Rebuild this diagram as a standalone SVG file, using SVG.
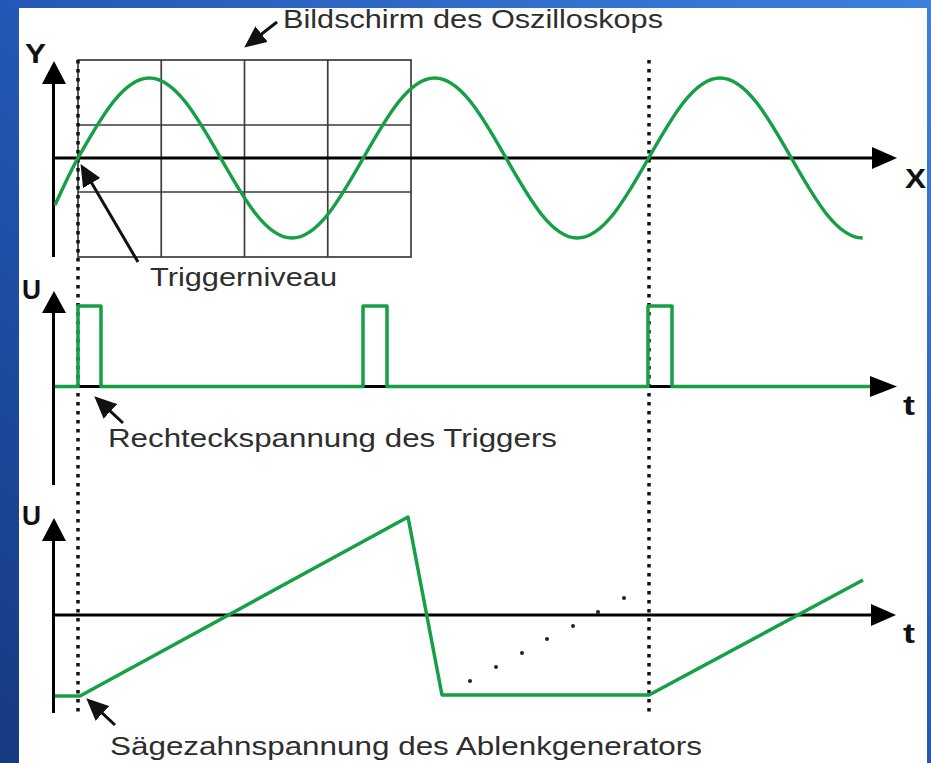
<svg xmlns="http://www.w3.org/2000/svg" width="931" height="763" viewBox="0 0 931 763">
<style>
.axis{stroke:#000;stroke-width:3;fill:none}
.grid{stroke:#3c3c3c;stroke-width:1.7;fill:none}
.trig{stroke:#111;stroke-width:3.5;stroke-dasharray:3.5 5.5;fill:none}
.wave{stroke:#16a046;stroke-width:3.5;fill:none;stroke-linejoin:round}
.ann{stroke:#111;stroke-width:3;fill:none}
.lbl{font-family:"Liberation Sans",Arial,sans-serif;font-size:26px;fill:#2e2e2e}
.ax{font-family:"Liberation Sans",Arial,sans-serif;font-size:27px;font-weight:bold;fill:#111}
.dot{fill:#222}
</style>
<defs>
<linearGradient id="bg" x1="0" y1="1" x2="1" y2="0">
<stop offset="0" stop-color="#163a80"/>
<stop offset="0.5" stop-color="#2458b8"/>
<stop offset="1" stop-color="#3d80de"/>
</linearGradient>
<marker id="ah" viewBox="0 0 22 20" refX="9" refY="10" markerWidth="22" markerHeight="20" markerUnits="userSpaceOnUse" orient="auto">
<path d="M0,0 L22,10 L0,20 z" fill="#111"/>
</marker>
</defs>
<rect x="0" y="0" width="931" height="763" fill="url(#bg)"/>
<rect x="19" y="8" width="908" height="755" fill="#fff"/>

<g id="screen-grid">
<rect class="grid" x="78" y="60" width="333" height="197"/>
<path class="grid" d="M161.25,60V257M244.5,60V257M327.75,60V257M78,125H411M78,192H411"/>
</g>

<g id="trigger-lines">
<path class="trig" d="M78,60V713"/>
<path class="trig" d="M649,60V713"/>
</g>

<g id="axes-top">
<path class="axis" d="M53.5,80V257"/>
<path d="M54,61L42,84H66z" fill="#000"/>
<path class="axis" d="M53,158H875"/>
<path d="M897,158L872,147V169z" fill="#000"/>
<text class="ax" x="25" y="63" textLength="21" lengthAdjust="spacingAndGlyphs">Y</text>
<text class="ax" x="905" y="188" textLength="21" lengthAdjust="spacingAndGlyphs">X</text>
</g>

<g id="sine-wave">
<path class="wave" d="M55,205 C63,188 70,172 78,158 C101.78,116.1 123.72,78 149.33,78 C174.94,78 196.88,116.1 220.67,158 C244.45,199.9 266.39,238 292,238 C317.61,238 339.55,199.9 363.33,158 C387.11,116.1 409.05,78 434.67,78 C460.28,78 482.22,116.1 506,158 C529.78,199.9 551.72,238 577.33,238 C602.94,238 624.88,199.9 648.67,158 C672.45,116.1 694.39,78 720,78 C745.61,78 767.55,116.1 791.33,158 C815.11,199.9 837.05,238 862.67,238"/>
</g>

<g id="axes-middle">
<path class="axis" d="M53.5,310V485"/>
<path d="M54,291L42,313H66z" fill="#000"/>
<path class="axis" d="M53,386.5H875"/>
<path d="M897,386.5L870,376V397z" fill="#000"/>
<text class="ax" x="22" y="299" textLength="19" lengthAdjust="spacingAndGlyphs">U</text>
<text class="ax" x="903" y="415" textLength="12" lengthAdjust="spacingAndGlyphs">t</text>
</g>

<g id="trigger-pulses">
<path class="wave" d="M55,386.5H78V306H101V386.5H363V306H387V386.5H648V306H672V386.5H870"/>
</g>

<g id="axes-bottom">
<path class="axis" d="M53.5,538V713"/>
<path d="M54,518L42,541H66z" fill="#000"/>
<path class="axis" d="M53,615H875"/>
<path d="M896,615L871,604V626z" fill="#000"/>
<text class="ax" x="22" y="525" textLength="19" lengthAdjust="spacingAndGlyphs">U</text>
<text class="ax" x="903" y="643" textLength="12" lengthAdjust="spacingAndGlyphs">t</text>
</g>

<g id="sawtooth">
<path class="wave" d="M55,696H80L408,517L442,695H649L863,580"/>
<circle class="dot" cx="470" cy="681" r="2"/>
<circle class="dot" cx="496" cy="667" r="2"/>
<circle class="dot" cx="522" cy="653" r="2"/>
<circle class="dot" cx="547" cy="639" r="2"/>
<circle class="dot" cx="573" cy="626" r="2"/>
<circle class="dot" cx="598" cy="612" r="2"/>
<circle class="dot" cx="624" cy="598" r="2"/>
</g>

<g id="connectors">
<path class="ann" d="M277,22L254.5,39.6" marker-end="url(#ah)"/>
<path class="ann" d="M138,262L87.1,175.3" marker-end="url(#ah)"/>
<path class="ann" d="M123,423L103.8,405.2" marker-end="url(#ah)"/>
<path class="ann" d="M115,725L95.8,707.2" marker-end="url(#ah)"/>
</g>

<g id="label-screen"><text class="lbl" x="283" y="28" textLength="380" lengthAdjust="spacingAndGlyphs">Bildschirm des Oszilloskops</text></g>
<g id="label-trigger-level"><text class="lbl" x="150" y="286" textLength="187" lengthAdjust="spacingAndGlyphs">Triggerniveau</text></g>
<g id="label-square"><text class="lbl" x="108" y="447" textLength="449" lengthAdjust="spacingAndGlyphs">Rechteckspannung des Triggers</text></g>
<g id="label-saw"><text class="lbl" x="110" y="755" textLength="592" lengthAdjust="spacingAndGlyphs">Sägezahnspannung des Ablenkgenerators</text></g>
</svg>
